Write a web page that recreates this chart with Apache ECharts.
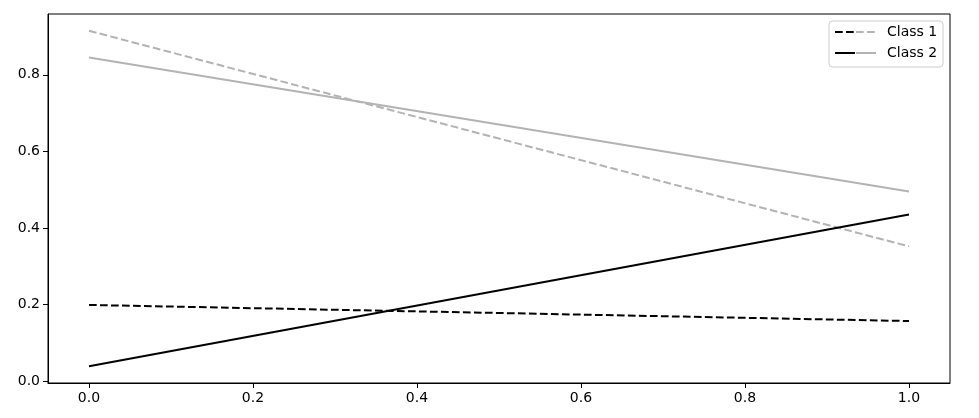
<!DOCTYPE html>
<html>
<head>
<meta charset="utf-8">
<script src="https://cdn.jsdelivr.net/npm/echarts@6/dist/echarts.min.js"></script>
<style>
html,body{margin:0;padding:0;background:#fff;}
#chart{width:979px;height:418px;}
</style>
</head>
<body>
<div id="chart"></div>
<script>
const xValues = [0, 1];
const class1Black = [0.199, 0.157];
const class1Gray = [0.915, 0.352];
const class2Black = [0.039, 0.435];
const class2Gray = [0.845, 0.495];
const xTicks = [0, 0.2, 0.4, 0.6, 0.8, 1.0];
const yTicks = [0, 0.2, 0.4, 0.6, 0.8];
const legendLabels = ['Class 1', 'Class 2'];

const BLACK = '#000000';
const GRAY = '#b3b3b3';
const FONT = 'DejaVu Sans';
const DASH = [7.7, 3.3];

function pairs(ys) { return xValues.map((x, i) => [x, ys[i]]); }

function lineSeries(name, ys, color, dashed) {
  return {
    type: 'line', name: name, data: pairs(ys), symbol: 'none', silent: true,
    lineStyle: { color: color, width: 2, type: dashed ? DASH : 'solid' }
  };
}

const chart = echarts.init(document.getElementById('chart'), null, { renderer: 'canvas' });

const legendX = 829, legendY = 21;
const legendGraphics = [
  { type: 'rect', shape: { x: legendX, y: legendY, width: 114, height: 46, r: 3 },
    style: { fill: 'rgba(255,255,255,0.8)', stroke: '#cccccc', lineWidth: 1 }, z: 100 }
];
legendLabels.forEach((lab, i) => {
  const cy = 32 + i * 21;
  const dashed = i === 0;
  legendGraphics.push({ type: 'line', shape: { x1: 835, y1: cy, x2: 855, y2: cy },
    style: { stroke: BLACK, lineWidth: 2, lineDash: dashed ? DASH : null }, z: 101 });
  legendGraphics.push({ type: 'line', shape: { x1: 856, y1: cy, x2: 876, y2: cy },
    style: { stroke: GRAY, lineWidth: 2, lineDash: dashed ? DASH : null }, z: 101 });
  legendGraphics.push({ type: 'text', x: 887, y: cy,
    style: { text: lab, fill: '#000', font: '14px "' + FONT + '"', verticalAlign: 'middle', align: 'left' }, z: 101 });
});

chart.setOption({
  animation: false,
  backgroundColor: '#ffffff',
  grid: { left: 48, right: 29, top: 14, bottom: 35, show: true, borderColor: '#000', borderWidth: 1, backgroundColor: 'transparent' },
  xAxis: {
    type: 'value', min: -0.05, max: 1.05,
    axisLine: { show: true, onZero: false, lineStyle: { color: '#000', width: 1 } },
    axisTick: { show: true, inside: false, length: 5, lineStyle: { color: '#000' }, customValues: xTicks },
    axisLabel: { customValues: xTicks, color: '#000', fontFamily: FONT, fontSize: 14, margin: 8,
      formatter: v => Number(v).toFixed(1) },
    splitLine: { show: false }
  },
  yAxis: {
    type: 'value', min: -0.0048, max: 0.9588,
    axisLine: { show: true, onZero: false, lineStyle: { color: '#000', width: 1 } },
    axisTick: { show: true, inside: false, length: 5, lineStyle: { color: '#000' }, customValues: yTicks },
    axisLabel: { customValues: yTicks, color: '#000', fontFamily: FONT, fontSize: 14, margin: 8,
      formatter: v => Number(v).toFixed(1) },
    splitLine: { show: false }
  },
  series: [
    lineSeries('Class 1', class1Black, BLACK, true),
    lineSeries('Class 1 (gray)', class1Gray, GRAY, true),
    lineSeries('Class 2', class2Black, BLACK, false),
    lineSeries('Class 2 (gray)', class2Gray, GRAY, false)
  ],
  graphic: legendGraphics
});
</script>
</body>
</html>
